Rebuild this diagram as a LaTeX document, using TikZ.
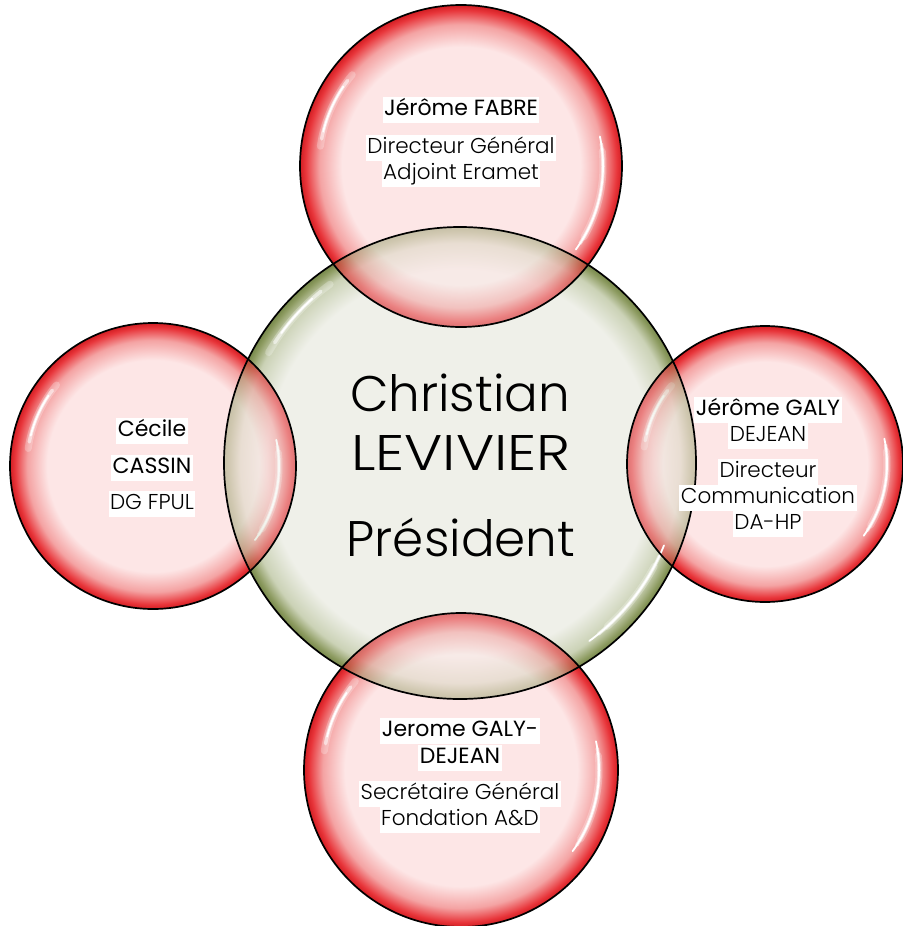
\documentclass[tikz,border=0pt]{standalone}
\usepackage{fontspec}
\setmainfont{Poppins}
\newfontfamily\lightfont{Poppins Light}
\usetikzlibrary{calc}
\definecolor{rpink}{HTML}{FDE6E6}
\definecolor{rmid}{HTML}{F4A3A3}
\definecolor{redge}{HTML}{E8353A}
\definecolor{rdark}{HTML}{D21E23}
\definecolor{gin}{HTML}{EFF0E9}
\definecolor{gmid}{HTML}{CBD2B6}
\definecolor{gedge}{HTML}{8E9C62}
\definecolor{gdark}{HTML}{76884A}
\pgfdeclareradialshading{redbub}{\pgfpoint{0bp}{0bp}}{color(0bp)=(rpink); color(18.5bp)=(rpink); color(22bp)=(rmid); color(24.2bp)=(redge); color(25bp)=(rdark); color(50bp)=(rdark)}
\pgfdeclareradialshading{greenbub}{\pgfpoint{0bp}{0bp}}{color(0bp)=(gin); color(20.5bp)=(gin); color(23.3bp)=(gmid); color(24.5bp)=(gedge); color(25bp)=(gdark); color(50bp)=(gdark)}
\newcommand\hilite[4]{% center, radius, angle1, angle2 (screen angles)
  \draw[white, line cap=round, line width=7pt, opacity=0.25] ($(#1)+({-(#3)}:#2)$) arc[start angle={-(#3)}, end angle={-(#4)}, radius=#2];
  \draw[white, line cap=round, line width=3.5pt, opacity=0.55] ($(#1)+({-(#3)-3}:#2)$) arc[start angle={-(#3)-3}, end angle={-(#4)+3}, radius=#2];
  \draw[white, line cap=round, line width=1.8pt, opacity=1] ($(#1)+({-(#3)-6}:#2)$) arc[start angle={-(#3)-6}, end angle={-(#4)+6}, radius=#2];
}
\tikzset{
  outline/.style={draw=black, line width=1.7pt},
  namebox/.style={fill=white, inner xsep=1.5pt, inner ysep=1.5pt, text height=17pt, text depth=6pt, font=\fontsize{22}{25}\selectfont},
  rolebox/.style={fill=white, inner xsep=1.5pt, inner ysep=1.5pt, text height=17pt, text depth=6pt, font=\lightfont\fontsize{21.5}{25}\selectfont},
  bigtext/.style={inner sep=0pt, font=\lightfont\fontsize{50}{56}\selectfont},
}
\begin{document}
\begin{tikzpicture}[x=1pt,y=-1pt]
\useasboundingbox (0,0) rectangle (902,926);
\coordinate (G) at (460,463);
\coordinate (T) at (461,166);
\coordinate (R) at (765,464);
\coordinate (L) at (153,466);
\coordinate (B) at (461,770);
% green base
\shade[shading=greenbub] (G) circle[radius=236];
% red bubbles
\foreach \c/\r in {T/161, R/138, L/143, B/157}{
  \shade[shading=redbub] (\c) circle[radius=\r];
}
\hilite{T}{142}{140}{172}
\hilite{T}{142}{6}{-30}
\hilite{R}{122}{140}{172}
\hilite{R}{122}{6}{-30}
\hilite{L}{126}{140}{172}
\hilite{L}{126}{6}{-30}
\hilite{B}{138}{140}{172}
\hilite{B}{138}{6}{-30}
% green over, translucent
\shade[shading=greenbub, fill opacity=0.4] (G) circle[radius=236];
\hilite{G}{221}{126}{150}
\hilite{G}{220}{-28}{-48}
% outlines
\draw[outline] (G) circle[radius=236];
\foreach \c/\r in {T/161, R/138, L/143, B/157}{
  \draw[outline] (\c) circle[radius=\r];
}
% centre text
\node[bigtext] (c1) at (460,393) {Christian};
\node[bigtext] (c2) at (461,453) {\scalebox{1.16}[1]{LEVIVIER}};
\node[bigtext] (c3) at (461,537) {Président};
% top
\node[namebox] (t1) at (461,110) {Jérôme FABRE};
\node[rolebox] (t2) at (461,148) {Directeur Général};
\node[rolebox] (t3) at (461,174) {Adjoint Eramet};
% right
\node[namebox] (r1) at (768,410) {Jérôme GALY};
\node[rolebox] (r2) at (768,436) {DEJEAN};
\node[rolebox] (r3) at (768,472) {Directeur};
\node[rolebox] (r4) at (768,498) {Communication};
\node[rolebox] (r5) at (768,524) {DA-HP};
% left
\node[namebox] (l1) at (152,431) {Cécile};
\node[namebox] (l2) at (152,468) {CASSIN};
\node[rolebox] (l3) at (152,504) {DG FPUL};
% bottom
\node[namebox] (b1) at (460,731) {Jerome GALY-};
\node[namebox] (b2) at (460,758) {DEJEAN};
\node[rolebox] (b3) at (460,794) {Secrétaire Général};
\node[rolebox] (b4) at (460,820) {Fondation A\&D};
\end{tikzpicture}
\end{document}
